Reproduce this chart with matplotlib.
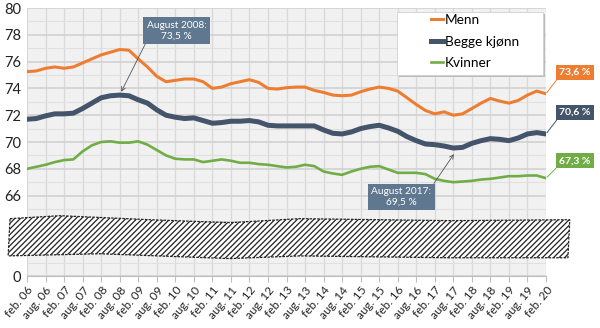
import numpy as np
import matplotlib
matplotlib.use("Agg")
import matplotlib.pyplot as plt
from matplotlib.patches import Polygon, Rectangle
from matplotlib.lines import Line2D

plt.rcParams['font.family'] = ['Lato', 'DejaVu Sans']

# ---- data (quarterly readings, month offset from feb. 2006) ----
months = np.arange(0, 169, 3)
menn = [75.25, 75.3, 75.5, 75.6, 75.5, 75.6, 75.9, 76.2, 76.5, 76.7, 76.9, 76.85,
        76.2, 75.6, 74.9, 74.5, 74.6, 74.7, 74.7, 74.5, 74.0, 74.1, 74.35, 74.5,
        74.65, 74.45, 74.0, 73.95, 74.05, 74.1, 74.1, 73.85, 73.7, 73.5, 73.45, 73.5,
        73.75, 73.95, 74.1, 74.0, 73.8, 73.3, 72.8, 72.35, 72.1, 72.25, 72.0, 72.1,
        72.5, 72.9, 73.25, 73.05, 72.9, 73.1, 73.5, 73.8, 73.6]
begge = [71.7, 71.75, 71.95, 72.1, 72.1, 72.15, 72.5, 72.9, 73.3, 73.45, 73.5, 73.45,
         73.15, 72.9, 72.4, 72.0, 71.85, 71.75, 71.8, 71.6, 71.4, 71.45, 71.55, 71.55,
         71.6, 71.5, 71.25, 71.2, 71.2, 71.2, 71.2, 71.2, 70.9, 70.65, 70.6, 70.75,
         71.0, 71.15, 71.25, 71.05, 70.8, 70.4, 70.1, 69.85, 69.8, 69.7, 69.55, 69.6,
         69.9, 70.1, 70.25, 70.2, 70.1, 70.3, 70.6, 70.7, 70.6]
kvinner = [68.0, 68.15, 68.3, 68.5, 68.65, 68.7, 69.3, 69.75, 70.0, 70.05, 69.95, 69.95,
           70.05, 69.8, 69.4, 69.0, 68.75, 68.7, 68.7, 68.5, 68.6, 68.7, 68.6, 68.45,
           68.45, 68.35, 68.3, 68.2, 68.1, 68.15, 68.3, 68.2, 67.8, 67.65, 67.55, 67.8,
           68.0, 68.15, 68.2, 67.95, 67.7, 67.7, 67.7, 67.6, 67.25, 67.1, 67.0, 67.05,
           67.1, 67.2, 67.25, 67.35, 67.45, 67.45, 67.5, 67.5, 67.3]

tick_months = np.arange(0, 169, 6)
tick_labels = ["feb. 06", "aug. 06", "feb. 07", "aug. 07", "feb. 08", "aug. 08",
               "feb. 09", "aug. 09", "feb. 10", "aug. 10", "feb. 11", "aug. 11",
               "feb. 12", "aug. 12", "feb. 13", "aug. 13", "feb. 14", "aug. 14",
               "feb. 15", "aug. 15", "feb. 16", "aug. 16", "feb. 17", "aug. 17",
               "feb. 18", "aug. 18", "feb. 19", "aug. 19", "feb. 20"]
ytick_vals = [60, 62, 64, 66, 68, 70, 72, 74, 76, 78, 80]
ytick_labels = ["0", "", "", "66", "68", "70", "72", "74", "76", "78", "80"]

end_labels = ["73,6 %", "70,6 %", "67,3 %"]
series_names = ["Menn", "Begge kjønn", "Kvinner"]

C_ORANGE = "#ED7D31"
C_DARK = "#44546A"
C_GREEN = "#70AD47"
C_BOX = "#60788F"

fig = plt.figure(figsize=(6.0, 3.28), dpi=100)
ax = fig.add_axes([27/600, 1-276/328, 519/600, 268/328])
ax.set_facecolor("#F1F1F1")

ax.set_xlim(0, 168)
ax.set_ylim(60, 80)

# grid
ax.set_yticks(ytick_vals)
ax.set_yticklabels(ytick_labels)
ax.set_yticks(np.arange(60, 81, 1), minor=True)
ax.set_xticks(tick_months)
ax.set_xticklabels(tick_labels, rotation=50, ha='right', rotation_mode='anchor', fontsize=8.5)
ax.grid(which='major', axis='y', color='#CFCFCF', lw=1.1)
ax.grid(which='minor', axis='y', color='#E0E0E0', lw=0.8)
ax.grid(which='major', axis='x', color='#D9D9D9', lw=0.9)
ax.tick_params(axis='y', which='both', length=0, labelsize=10.5, pad=4, labelcolor='#222222')
ax.tick_params(axis='x', which='major', length=4, color='#BFBFBF', labelsize=8.5, pad=2,
               labelcolor='#222222')
ax.tick_params(axis='x', which='minor', length=0)
ax.set_axisbelow(True)
for s in ['top', 'right', 'left']:
    ax.spines[s].set_visible(False)
ax.spines['bottom'].set_color('#BFBFBF')

# series
l1, = ax.plot(months, menn, color=C_ORANGE, lw=2.2, solid_capstyle='round', zorder=3)
l2, = ax.plot(months, begge, color=C_DARK, lw=3.6, solid_capstyle='round', zorder=3)
l3, = ax.plot(months, kvinner, color=C_GREEN, lw=1.9, solid_capstyle='round', zorder=3)

# axis break band
top_edge = [(-5.5, 64.28), (10.7, 64.5), (39.8, 64.2), (65.7, 63.98), (88.3, 64.28),
            (136.9, 64.13), (175.7, 64.2)]
bot_edge = [(175.1, 61.36), (136.9, 61.36), (88.3, 61.5), (65.7, 61.3), (23.6, 61.66),
            (-6.1, 61.5)]
plt.rcParams['hatch.linewidth'] = 0.9
band = Polygon(top_edge + bot_edge, closed=True, facecolor='white', edgecolor='#222222',
               hatch='//////', lw=0.9, ls=(0, (2, 1)), clip_on=False, zorder=4)
ax.add_patch(band)

# legend frame with shadow
lx0, ly0, lw_, lh_ = (397-27)/519, 1-(75-8)/268, (543-397)/519, (75-12)/268
ax.add_patch(Rectangle((lx0+0.004, ly0-0.008), lw_, lh_, transform=ax.transAxes,
                       facecolor='#BBBBBB', edgecolor='none', zorder=5, clip_on=False))
ax.add_patch(Rectangle((lx0, ly0), lw_, lh_, transform=ax.transAxes,
                       facecolor='white', edgecolor='#D0D0D0', lw=0.6, zorder=6,
                       clip_on=False))
handles = [Line2D([], [], color=C_ORANGE, lw=2.2),
           Line2D([], [], color=C_DARK, lw=3.6),
           Line2D([], [], color=C_GREEN, lw=1.9)]
leg = ax.legend(handles, series_names, loc='upper left',
                bbox_to_anchor=((431-27)/519, 1-(14-8)/268), frameon=False,
                fontsize=9.8, handlelength=0.9, handletextpad=0.1,
                labelspacing=0.7, borderpad=0, borderaxespad=0)
leg.set_zorder(7)

# callouts
bbox1 = dict(boxstyle='square,pad=0.35', facecolor=C_BOX, edgecolor='none')
ax.annotate("August 2008:\n73,5 %", xy=(30.5, 73.75), xytext=(48.5, 78.3),
            ha='center', va='center', color='white', fontsize=7.3, bbox=bbox1,
            linespacing=1.25,
            arrowprops=dict(arrowstyle='->', color='#555555', lw=0.6,
                            shrinkA=0, shrinkB=0, relpos=(0.0, 0.0)),
            zorder=8)
ax.annotate("August 2017:\n69,5 %", xy=(138.2, 69.1), xytext=(121.2, 65.9),
            ha='center', va='center', color='white', fontsize=7.3, bbox=bbox1,
            linespacing=1.25,
            arrowprops=dict(arrowstyle='->', color='#555555', lw=0.6,
                            shrinkA=0, shrinkB=0, relpos=(1.0, 1.0)),
            zorder=8)

# end labels
end_vals = [menn[-1], begge[-1], kvinner[-1]]
colors = [C_ORANGE, C_DARK, C_GREEN]
label_pos = [(177.3, 75.2), (177.3, 72.2), (177.3, 68.6)]
for txt, v, c, pos in zip(end_labels, end_vals, colors, label_pos):
    ax.annotate(txt, xy=(168, v), xytext=pos, ha='center', va='center',
                color='white', fontsize=7.5, fontweight='bold',
                bbox=dict(boxstyle='square,pad=0.3', facecolor=c, edgecolor='none'),
                arrowprops=dict(arrowstyle='-', color=c, lw=0.7, shrinkA=0, shrinkB=1,
                                relpos=(0.0, 0.0)),
                annotation_clip=False, zorder=8)

fig.savefig("out.png", dpi=100)
